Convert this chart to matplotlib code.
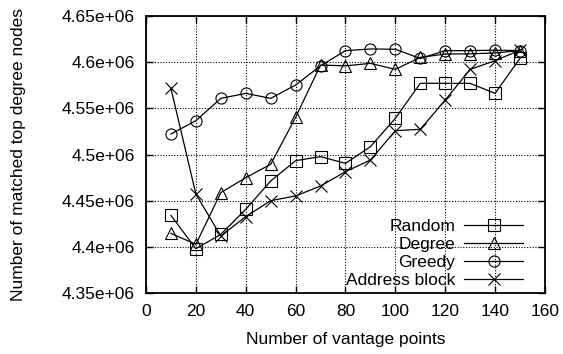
import matplotlib
matplotlib.use("Agg")
import matplotlib.pyplot as plt

plt.rcParams['font.family'] = ['Liberation Sans', 'DejaVu Sans']

vantage_points = [10, 20, 30, 40, 50, 60, 70, 80, 90, 100, 110, 120, 130, 140, 150]

random_sel = [4.434e6, 4.398e6, 4.4135e6, 4.4406e6, 4.4713e6, 4.4933e6, 4.4977e6, 4.4904e6,
              4.5085e6, 4.5392e6, 4.5771e6, 4.5771e6, 4.577e6, 4.5662e6, 4.6042e6]
degree_sel = [4.4146e6, 4.4027e6, 4.4587e6, 4.4749e6, 4.4894e6, 4.5403e6, 4.5969e6, 4.596e6,
              4.5987e6, 4.5922e6, 4.6052e6, 4.6088e6, 4.609e6, 4.610e6, 4.6125e6]
greedy_sel = [4.5222e6, 4.5366e6, 4.5608e6, 4.5662e6, 4.5608e6, 4.5753e6, 4.596e6, 4.6125e6,
              4.6143e6, 4.614e6, 4.604e6, 4.6125e6, 4.6125e6, 4.613e6, 4.6125e6]
address_sel = [4.5717e6, 4.4572e6, 4.4117e6, 4.4327e6, 4.45e6, 4.4551e6, 4.4659e6, 4.4814e6,
               4.494e6, 4.5258e6, 4.5273e6, 4.559e6, 4.5922e6, 4.6016e6, 4.613e6]

y_ticks = [4.35e6, 4.4e6, 4.45e6, 4.5e6, 4.55e6, 4.6e6, 4.65e6]
y_tick_labels = ['4.35e+06', '4.4e+06', '4.45e+06', '4.5e+06', '4.55e+06', '4.6e+06', '4.65e+06']
x_ticks = [0, 20, 40, 60, 80, 100, 120, 140, 160]

fig = plt.figure(figsize=(5.63, 3.54), dpi=100)
ax = fig.add_axes([0.2593, 0.1723, 0.7087, 0.7825])

style = dict(color='black', lw=0.9, markersize=8, markerfacecolor='none',
             markeredgecolor='black', markeredgewidth=0.8)
ax.plot(vantage_points, random_sel, marker='s', label='Random', **style)
ax.plot(vantage_points, degree_sel, marker='^', label='Degree', **style)
ax.plot(vantage_points, greedy_sel, marker='o', label='Greedy', **style)
ax.plot(vantage_points, address_sel, marker='x', label='Address block', **style)

ax.set_xlim(0, 160)
ax.set_ylim(4.35e6, 4.65e6)
ax.set_xticks(x_ticks)
ax.set_yticks(y_ticks)
ax.set_yticklabels(y_tick_labels)
ax.tick_params(direction='in', top=True, right=True, length=5, width=1,
               labelsize=12.5)
ax.tick_params(axis='x', pad=8)
ax.tick_params(axis='y', pad=8)
for s in ax.spines.values():
    s.set_linewidth(1.3)
ax.grid(True, color='black', linestyle=(0, (1, 1.5)), linewidth=0.8)

ax.set_xlabel('Number of vantage points', fontsize=12.5, labelpad=9)
ax.set_ylabel('Number of matched top degree nodes', fontsize=12.5, labelpad=26)

ax.legend(loc='lower right', bbox_to_anchor=(0.967, -0.012), frameon=False, markerfirst=False,
          fontsize=12.5, handlelength=3.4, handletextpad=0.5, labelspacing=0.16,
          borderaxespad=0.1)

fig.savefig('out.png', dpi=100)
